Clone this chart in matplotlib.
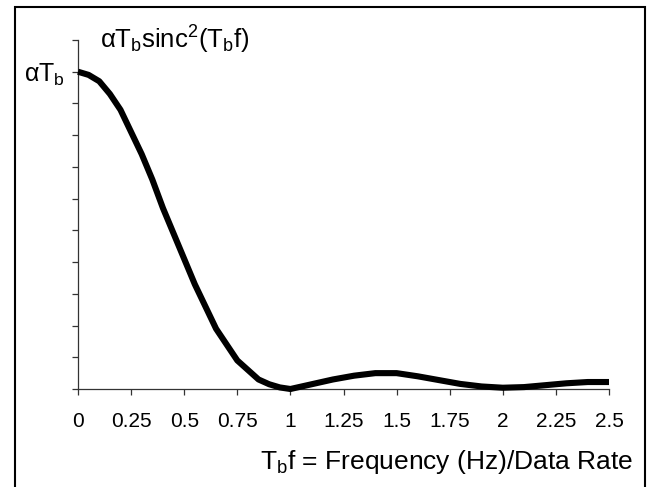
import numpy as np
import matplotlib
matplotlib.use("Agg")
import matplotlib.pyplot as plt
from matplotlib.patches import Rectangle

plt.rcParams["font.family"] = ["Liberation Sans", "DejaVu Sans"]
plt.rcParams["mathtext.fontset"] = "custom"
plt.rcParams["mathtext.rm"] = "Liberation Sans"
plt.rcParams["mathtext.it"] = "Liberation Sans"

# values (Tb*f vs normalised PSD)
tbf = [0, .05, .1, .15, .2, .25, .3, .35, .4, .45, .5, .55, .6, .65, .7, .75,
       .8, .85, .9, .95, 1.0, 1.1, 1.2, 1.3, 1.4, 1.5, 1.6, 1.7, 1.8, 1.9,
       2.0, 2.1, 2.2, 2.3, 2.4, 2.5]
psd = [1.0, 0.99, 0.97, 0.93, 0.88, 0.81, 0.74, 0.66, 0.57, 0.49, 0.41, 0.33,
       0.26, 0.19, 0.14, 0.09, 0.06, 0.03, 0.015, 0.005, 0.0, 0.015, 0.03,
       0.042, 0.05, 0.05, 0.04, 0.028, 0.016, 0.008, 0.004, 0.006, 0.012,
       0.018, 0.022, 0.022]
xticks = [0, 0.25, 0.5, 0.75, 1, 1.25, 1.5, 1.75, 2, 2.25, 2.5]
xticklabels = ["0", "0.25", "0.5", "0.75", "1", "1.25", "1.5", "1.75", "2", "2.25", "2.5"]
yticks = [round(0.1 * i, 1) for i in range(12)]

W, H = 649, 487
fig = plt.figure(figsize=(W / 100, H / 100), dpi=100, facecolor="white")
ax = fig.add_axes([78 / W, 1 - 389 / H, (609 - 78) / W, (389 - 40) / H])

ax.plot(tbf, psd, color="black", lw=4.4, solid_capstyle="butt", clip_on=False, zorder=3)

ax.set_xlim(0, 2.5)
ax.set_ylim(0, 1.1)
ax.set_xticks(xticks)
ax.set_xticklabels(xticklabels)
ax.set_yticks(yticks)
ax.set_yticklabels(["$\\alpha T_b$" if abs(v - 1.0) < 1e-9 else "" for v in yticks])

for s in ["top", "right"]:
    ax.spines[s].set_visible(False)
for s in ["left", "bottom"]:
    ax.spines[s].set_color("#333333")
    ax.spines[s].set_linewidth(0.9)
ax.tick_params(direction="out", length=4.5, width=0.9, color="#333333", labelcolor="black")
ax.tick_params(axis="x", pad=12, labelsize=15)
ax.tick_params(axis="y", pad=5, labelsize=18)

fig.text(100 / W, 1 - 49 / H, "$\\alpha T_b$sinc$^2$($T_b$f)", fontsize=18.5,
         ha="left", va="baseline")
fig.text(633 / W, 1 - 469 / H, "$T_b$f = Frequency (Hz)/Data Rate", fontsize=19,
         ha="right", va="baseline")

# outer frame (bottom edge falls outside the picture)
fig.patches.append(Rectangle((15 / W, -0.05), (645 - 15) / W, 1 - 7 / H + 0.05,
                             transform=fig.transFigure, fill=False,
                             edgecolor="black", lw=1.5))

fig.savefig("out.png", dpi=100, facecolor="white")
